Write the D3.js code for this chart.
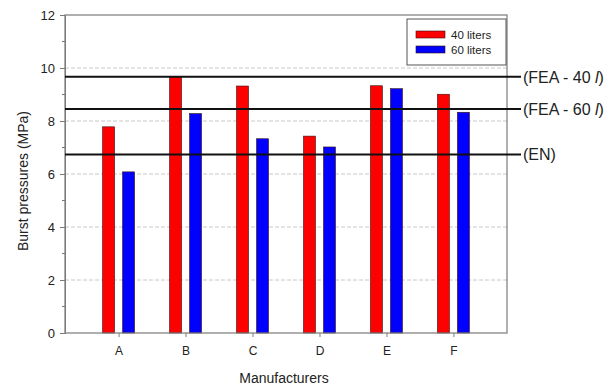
<!DOCTYPE html>
<html>
<head>
<meta charset="utf-8">
<script src="https://cdn.jsdelivr.net/npm/d3@7/dist/d3.min.js"></script>
<style>
  html, body { margin: 0; padding: 0; background: #fff; }
  svg { display: block; font-family: "Liberation Sans", Arial, Helvetica, sans-serif; }
</style>
</head>
<body>
<svg id="chart" width="616" height="387"></svg>
<script>
// Burst pressure per manufacturer, for 40 and 60 litre cylinders (MPa)
const manufacturers = ["A", "B", "C", "D", "E", "F"];
const seriesNames = ["40 liters", "60 liters"];
const seriesColors = ["#ff0000", "#0000ff"];
const burst40 = [7.78, 9.66, 9.32, 7.43, 9.33, 9.01];
const burst60 = [6.08, 8.28, 7.33, 7.02, 9.22, 8.33];
const refLabels = ["(FEA - 40 ", "(FEA - 60 ", "(EN)"];
const refValues = [9.67, 8.45, 6.74];
const yTicks = [0, 2, 4, 6, 8, 10, 12];
const yMinorTicks = [1, 3, 5, 7, 9, 11];

const svg = d3.select("#chart");
const plotL = 65, plotR = 507, plotT = 15, plotB = 333;

const x = d3.scalePoint().domain(manufacturers).range([plotL, plotR]).padding(0.8);
const y = d3.scaleLinear().domain([0, 12]).range([plotB, plotT]);

// dashed horizontal grid
svg.append("g")
  .selectAll("line")
  .data(yTicks.filter(v => v > 0 && v < 12))
  .join("line")
  .attr("x1", plotL).attr("x2", plotR)
  .attr("y1", d => y(d)).attr("y2", d => y(d))
  .attr("stroke", "#c8c8c8").attr("stroke-width", 1)
  .attr("stroke-dasharray", "4,2");

// bars
const series = [burst40, burst60];
const barW = 12, offsets = [-10, 10];
series.forEach((vals, si) => {
  svg.append("g")
    .selectAll("rect")
    .data(vals)
    .join("rect")
    .attr("x", (d, i) => x(manufacturers[i]) + offsets[si] - barW / 2)
    .attr("y", d => y(d))
    .attr("width", barW)
    .attr("height", d => y(0) - y(d))
    .attr("fill", seriesColors[si])
    .attr("stroke", "#3a1010").attr("stroke-width", 0.6);
});

// plot frame
svg.append("rect")
  .attr("x", plotL).attr("y", plotT)
  .attr("width", plotR - plotL).attr("height", plotB - plotT)
  .attr("fill", "none").attr("stroke", "#7a7a7a").attr("stroke-width", 1.2);

// y axis
const yAxis = svg.append("g")
  .attr("transform", `translate(${plotL},0)`)
  .call(d3.axisLeft(y).tickValues(yTicks).tickSize(5).tickPadding(5));
yAxis.select(".domain").attr("stroke", "#7a7a7a");
yAxis.selectAll(".tick line").attr("stroke", "#7a7a7a");
yAxis.selectAll("text").attr("font-size", 13).attr("fill", "#222")
  .attr("font-family", "Liberation Sans, Arial, sans-serif");
svg.append("g")
  .selectAll("line")
  .data(yMinorTicks)
  .join("line")
  .attr("x1", plotL - 3).attr("x2", plotL)
  .attr("y1", d => y(d)).attr("y2", d => y(d))
  .attr("stroke", "#7a7a7a");

// x axis
const xAxis = svg.append("g")
  .attr("transform", `translate(0,${plotB})`)
  .call(d3.axisBottom(x).tickSize(4).tickPadding(9));
xAxis.select(".domain").remove();
xAxis.selectAll(".tick line").attr("stroke", "#7a7a7a");
xAxis.selectAll("text").attr("font-size", 12).attr("fill", "#222")
  .attr("font-family", "Liberation Sans, Arial, sans-serif");

// axis titles
svg.append("text")
  .attr("transform", `translate(28,181) rotate(-90)`)
  .attr("text-anchor", "middle")
  .attr("font-size", 14).attr("fill", "#222")
  .text("Burst pressures (MPa)");
svg.append("text")
  .attr("x", 284).attr("y", 383)
  .attr("text-anchor", "middle")
  .attr("font-size", 14).attr("fill", "#222")
  .text("Manufacturers");

// reference pressure lines
const refs = svg.append("g");
refValues.forEach((v, i) => {
  refs.append("line")
    .attr("x1", plotL).attr("x2", 521)
    .attr("y1", y(v)).attr("y2", y(v))
    .attr("stroke", "#111").attr("stroke-width", 2);
  const t = refs.append("text")
    .attr("x", 523).attr("y", y(v) + 6)
    .attr("font-size", 16).attr("fill", "#222");
  if (i < 2) {
    t.append("tspan").text(refLabels[i]);
    t.append("tspan").attr("font-style", "italic").text("l");
    t.append("tspan").text(")");
  } else {
    t.text(refLabels[i]);
  }
});

// legend
const lg = svg.append("g");
lg.append("rect")
  .attr("x", 407).attr("y", 19).attr("width", 99).attr("height", 46)
  .attr("fill", "#fff").attr("stroke", "#555").attr("stroke-width", 1);
seriesNames.forEach((name, i) => {
  lg.append("rect")
    .attr("x", 416).attr("y", 31 + i * 15).attr("width", 29).attr("height", 7)
    .attr("fill", seriesColors[i]).attr("stroke", "#3a1010").attr("stroke-width", 0.6);
  lg.append("text")
    .attr("x", 451).attr("y", 39 + i * 15)
    .attr("font-size", 11.5).attr("fill", "#222")
    .text(name);
});
</script>
</body>
</html>
